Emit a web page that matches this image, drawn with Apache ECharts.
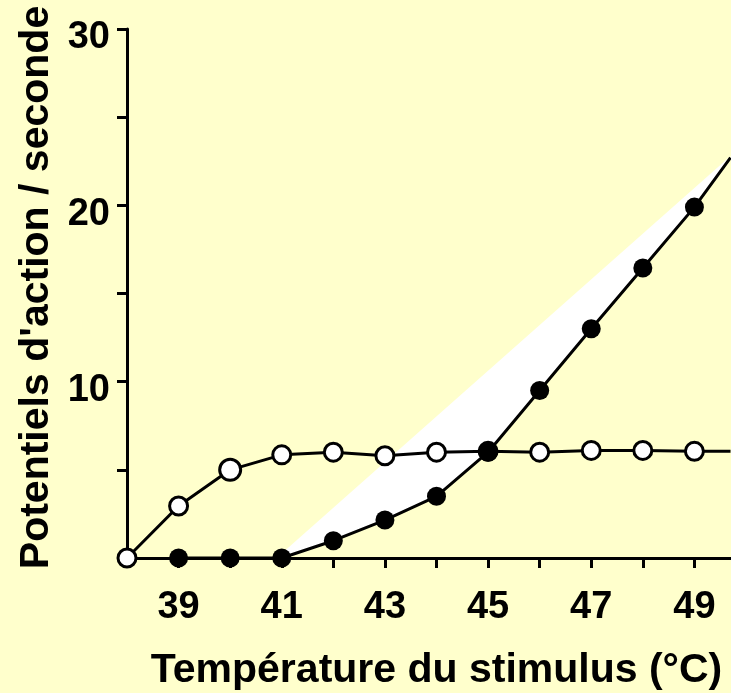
<!DOCTYPE html>
<html>
<head>
<meta charset="utf-8">
<script src="https://cdn.jsdelivr.net/npm/echarts@6/dist/echarts.min.js"></script>
<style>
html,body{margin:0;padding:0;background:#ffffcc;}
#c{width:731px;height:693px;}
</style>
</head>
<body>
<div id="c"></div>
<script>
// Data
const temps = [38, 39, 40, 41, 42, 43, 44, 45, 46, 47, 48, 49, 49.7];
const openValues = [0, 2.95, 5.0, 5.85, 6.0, 5.8, 6.0, 6.05, 6.0, 6.1, 6.1, 6.05, 6.05];
const filledTemps = [39, 40, 41, 42, 43, 44, 45, 46, 47, 48, 49, 49.7];
const filledValues = [0, 0, 0, 0.98, 2.15, 3.5, 6.0, 9.5, 13.0, 16.45, 19.9, 22.7];
const wedgeTemps = [40.9, 49.7];
const wedgeValues = [0, 22.8];
const xTickLabels = ['39', '41', '43', '45', '47', '49'];
const yTickLabels = ['10', '20', '30'];

const openData = temps.map((t, i) => {
  const d = { value: [t, openValues[i]] };
  if (i === temps.length - 1) d.symbol = 'none';
  if (t === 40) d.symbolSize = 21;
  return d;
});
const filledData = filledTemps.map((t, i) => {
  const d = { value: [t, filledValues[i]] };
  if (i === filledTemps.length - 1) d.symbol = 'none';
  return d;
});

// wedge polygon: straight upper edge, then back along the filled curve
const wedgePoly = wedgeTemps.map((t, i) => [t, wedgeValues[i]]);
for (let i = filledTemps.length - 1; i >= 0; i--) {
  if (filledTemps[i] >= 41) wedgePoly.push([filledTemps[i], filledValues[i]]);
}

const font = 'Liberation Sans, Arial, Helvetica, sans-serif';
const chart = echarts.init(document.getElementById('c'));
chart.setOption({
  backgroundColor: '#ffffcc',
  animation: false,
  grid: { left: 127, right: -15, top: 29, bottom: 135, containLabel: false, outerBoundsMode: 'none' },
  xAxis: {
    type: 'value', min: 38, max: 50, interval: 1,
    name: 'Température du stimulus (°C)',
    nameLocation: 'middle', nameGap: 92,
    nameTextStyle: { fontFamily: font, fontWeight: 'bold', fontSize: 41, color: '#000' },
    axisLine: { lineStyle: { color: '#000', width: 3 } },
    axisTick: { show: true, length: 10, lineStyle: { color: '#000', width: 3 } },
    splitLine: { show: false },
    axisLabel: {
      margin: 31, fontFamily: font, fontWeight: 'bold', fontSize: 38, color: '#000',
      showMinLabel: true, showMaxLabel: true,
      formatter: v => xTickLabels.includes(String(v)) ? String(v) : ''
    }
  },
  yAxis: {
    type: 'value', min: 0, max: 30, interval: 5,
    name: "Potentiels d'action / seconde",
    nameLocation: 'middle', nameGap: 68, nameRotate: 90,
    nameTextStyle: { fontFamily: font, fontWeight: 'bold', fontSize: 41, color: '#000', padding: [0, 0, 0, 12] },
    axisLine: { show: true, lineStyle: { color: '#000', width: 3 } },
    axisTick: { show: true, length: 10, lineStyle: { color: '#000', width: 3 } },
    splitLine: { show: false },
    axisLabel: {
      margin: 17, fontFamily: font, fontWeight: 'bold', fontSize: 38, color: '#000',
      verticalAlign: 'top', lineHeight: 18,
      formatter: v => yTickLabels.includes(String(v)) ? String(v) : ''
    }
  },
  series: [
    {
      type: 'custom', z: 1, silent: true,
      data: [0],
      renderItem: (params, api) => ({
        type: 'polygon',
        shape: { points: wedgePoly.map(p => api.coord(p)) },
        style: { fill: '#ffffff', stroke: null }
      })
    },
    {
      type: 'line', z: 3, data: openData,
      symbol: 'circle', symbolSize: 18,
      lineStyle: { color: '#000', width: 3 },
      itemStyle: { color: '#fff', borderColor: '#000', borderWidth: 3 }
    },
    {
      type: 'line', z: 4, data: filledData,
      symbol: 'circle', symbolSize: 19,
      lineStyle: { color: '#000', width: 3 },
      itemStyle: { color: '#000', borderColor: '#000', borderWidth: 0 }
    }
  ]
});
</script>
</body>
</html>
